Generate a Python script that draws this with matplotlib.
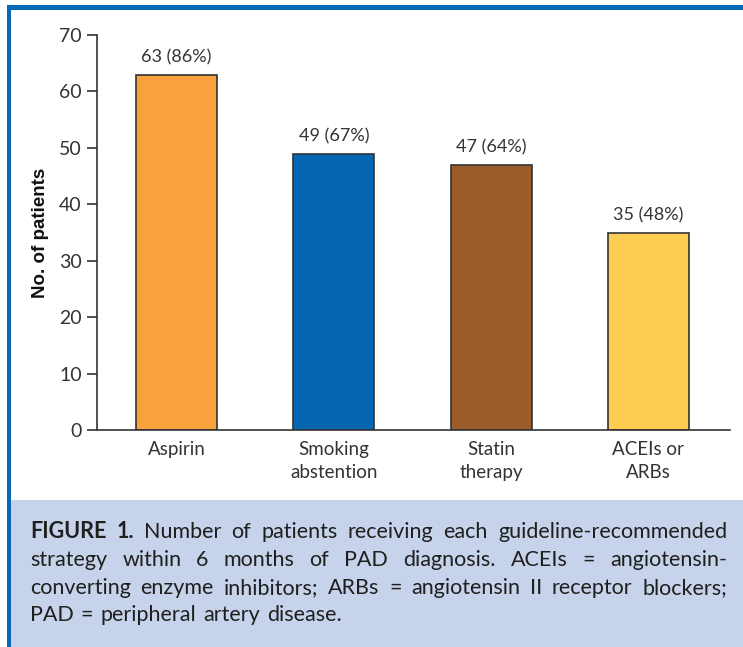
import matplotlib
matplotlib.use("Agg")
import matplotlib.pyplot as plt
from matplotlib.patches import Rectangle

categories = ["Aspirin", "Smoking\nabstention", "Statin\ntherapy", "ACEIs or\nARBs"]
patients = [63, 49, 47, 35]
percents = [86, 67, 64, 48]
bar_colors = ["#F7A23B", "#0567B1", "#9A5C2A", "#FDCD52"]

caption_lines = [
    [("FIGURE", "bold"), ("1.", "bold"), ("Number", "normal"), ("of", "normal"), ("patients", "normal"),
     ("receiving", "normal"), ("each", "normal"), ("guideline-recommended", "normal")],
    [("strategy", "normal"), ("within", "normal"), ("6", "normal"), ("months", "normal"), ("of", "normal"),
     ("PAD", "normal"), ("diagnosis.", "normal"), ("ACEIs", "normal"), ("=", "normal"), ("angiotensin-", "normal")],
    [("converting", "normal"), ("enzyme", "normal"), ("inhibitors;", "normal"), ("ARBs", "normal"), ("=", "normal"),
     ("angiotensin", "normal"), ("II", "normal"), ("receptor", "normal"), ("blockers;", "normal")],
    [("PAD", "normal"), ("=", "normal"), ("peripheral", "normal"), ("artery", "normal"), ("disease.", "normal")],
]

W, H = 743, 647
fig = plt.figure(figsize=(W / 100, H / 100), dpi=100)
fig.patch.set_facecolor("white")

# caption panel and blue frame
fig.patches.append(Rectangle((10 / W, 0), 1, 147 / H, transform=fig.transFigure,
                             facecolor="#C6D3EA", edgecolor="none", zorder=0))
fig.patches.append(Rectangle((7 / W, 0), 3.5 / W, 1 - 5 / H, transform=fig.transFigure,
                             facecolor="#0569B5", edgecolor="none", zorder=1))
fig.patches.append(Rectangle((7 / W, 1 - 9.5 / H), 1, 4.5 / H, transform=fig.transFigure,
                             facecolor="#0569B5", edgecolor="none", zorder=1))

txt = dict(family="Lato", fontweight="normal", color="#333333")

ax = fig.add_axes([97 / W, 1 - 430 / H, 633 / W, 395 / H])
x = range(len(categories))
bars = ax.bar(x, patients, width=0.516, color=bar_colors, edgecolor="#333333", linewidth=1.2, zorder=2)
for b, n, p in zip(bars, patients, percents):
    ax.text(b.get_x() + b.get_width() / 2, n + 1.6, f"{n} ({p}%)", ha="center", va="bottom",
            fontsize=13, **txt)

ax.set_xlim(-0.506, 3.519)
ax.set_ylim(0, 70)
ax.set_yticks(range(0, 71, 10))
ax.set_xticks(list(x))
ax.set_xticklabels(categories, fontsize=13.5, linespacing=1.45, **txt)
for lab in ax.get_yticklabels():
    lab.set_fontsize(14)
    lab.set_family("Lato")
    lab.set_color("#333333")
ax.tick_params(axis="y", length=7, width=1.2, color="#333333", pad=4)
ax.tick_params(axis="x", length=0, pad=8)
for s in ["top", "right"]:
    ax.spines[s].set_visible(False)
for s in ["left", "bottom"]:
    ax.spines[s].set_color("#333333")
    ax.spines[s].set_linewidth(1.2)
ax.set_ylabel("No. of patients", fontsize=13.5, fontweight="bold", family="Liberation Sans",
              color="#111111", labelpad=7)

# justified caption text
renderer = fig.canvas.get_renderer()
left, right = 30, 727
line_y = [532, 560, 588, 615]
for i, (words, yy) in enumerate(zip(caption_lines, line_y)):
    texts = []
    for w, wt in words:
        t = fig.text(0, 1 - yy / H, w, fontsize=15.5, family="Lato", fontweight=wt,
                     color="#1f1f1f", va="center", ha="left")
        texts.append(t)
    widths = [t.get_window_extent(renderer).width for t in texts]
    if i < len(caption_lines) - 1:
        gap = (right - left - sum(widths)) / (len(words) - 1)
    else:
        gap = 7
    xpos = left
    for t, wd in zip(texts, widths):
        t.set_x(xpos / W)
        xpos += wd + gap

fig.savefig("out.png", dpi=100)
